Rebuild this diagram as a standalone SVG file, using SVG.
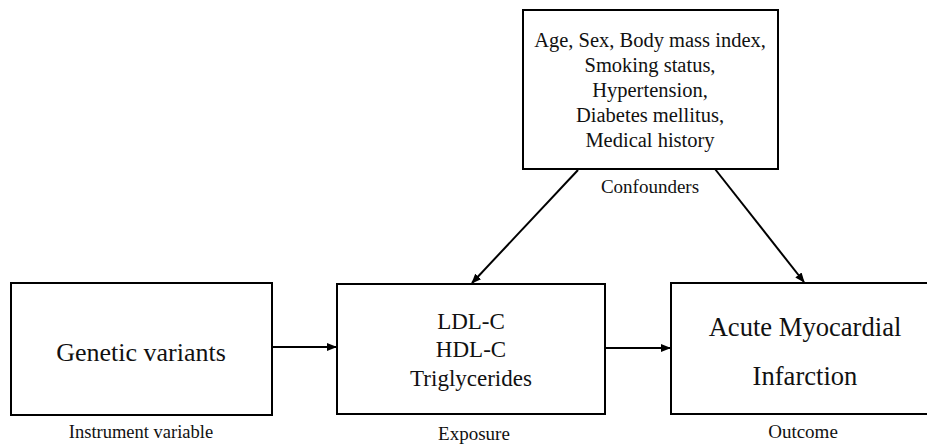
<svg xmlns="http://www.w3.org/2000/svg" width="927" height="448" viewBox="0 0 927 448">
<defs>
<style>
.box{fill:#fff;stroke:#000;stroke-width:2}
.t{fill:#111;text-anchor:middle}
.conn{stroke:#000;stroke-width:2;fill:none;marker-end:url(#ah)}
</style>
<marker id="ah" markerWidth="10" markerHeight="8" refX="9" refY="4" orient="auto" markerUnits="userSpaceOnUse">
<path d="M0,0 L10,4 L0,8 Z" fill="#000"/>
</marker>
</defs>
<rect width="927" height="448" fill="#fff"/>
<g id="connectors">
<line class="conn" x1="272" y1="347" x2="336" y2="347"/>
<line class="conn" x1="605" y1="348" x2="670" y2="348"/>
<line class="conn" x1="578" y1="170" x2="472" y2="283"/>
<line class="conn" x1="715" y1="169" x2="804" y2="282"/>
</g>
<g font-family="'Liberation Serif', 'Times New Roman', 'DejaVu Serif', serif">
<g id="confounders">
<rect class="box" x="523" y="10" width="255" height="159"/>
<text class="t" font-size="20.5" x="650" y="47">Age, Sex, Body mass index,</text>
<text class="t" font-size="20.5" x="650" y="72">Smoking status,</text>
<text class="t" font-size="20.5" x="650" y="97">Hypertension,</text>
<text class="t" font-size="20.5" x="650" y="122">Diabetes mellitus,</text>
<text class="t" font-size="20.5" x="650" y="147">Medical history</text>
<text class="t" font-size="19" x="650" y="193">Confounders</text>
</g>
<g id="genetic">
<rect class="box" x="11" y="283" width="261" height="132"/>
<text class="t" font-size="26" x="141" y="361">Genetic variants</text>
<text class="t" font-size="18.5" x="141" y="438">Instrument variable</text>
</g>
<g id="exposure">
<rect class="box" x="337" y="284" width="268" height="130"/>
<text class="t" font-size="23" x="471" y="329">LDL-C</text>
<text class="t" font-size="23" x="471" y="357">HDL-C</text>
<text class="t" font-size="23" x="471" y="386">Triglycerides</text>
<text class="t" font-size="19" x="474" y="440">Exposure</text>
</g>
<g id="outcome">
<rect class="box" x="671" y="283" width="270" height="131"/>
<text class="t" font-size="26.6" x="805" y="336">Acute Myocardial</text>
<text class="t" font-size="26.6" x="805" y="385">Infarction</text>
<text class="t" font-size="19" x="803" y="438">Outcome</text>
</g>
</g>
</svg>
